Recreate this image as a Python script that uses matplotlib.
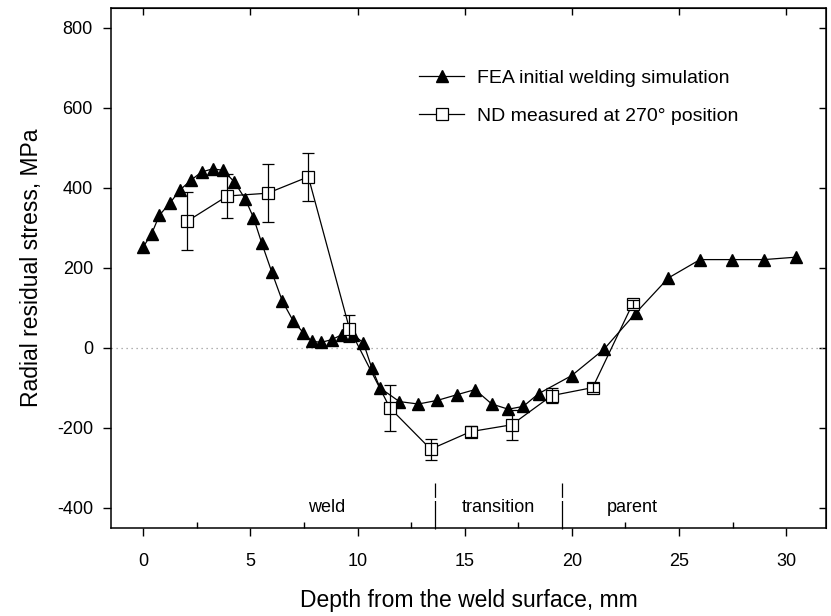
import matplotlib
matplotlib.use("Agg")
import matplotlib.pyplot as plt
from matplotlib.ticker import MultipleLocator

plt.rcParams['font.family'] = ['Liberation Sans', 'DejaVu Sans']
plt.rcParams['axes.unicode_minus'] = False

# FEA initial welding simulation
fea_x = [0, 0.39, 0.75, 1.25, 1.71, 2.23, 2.72, 3.24, 3.73, 4.25, 4.75, 5.14, 5.52,
         6.0, 6.49, 7.0, 7.47, 7.86, 8.3, 8.79, 9.26, 9.8, 10.27, 10.66, 11.05,
         11.95, 12.83, 13.72, 14.62, 15.48, 16.26, 17.03, 17.73, 18.45, 19.99,
         21.5, 22.99, 24.5, 25.98, 27.46, 28.96, 30.44]
fea_y = [253, 286, 332, 363, 395, 420, 440, 448, 444, 415, 373, 326, 263,
         189, 117, 67, 38, 17, 14, 21, 33, 33, 13, -50, -100,
         -134, -140, -131, -117, -104, -140, -153, -146, -114, -69,
         -3, 88, 175, 221, 221, 221, 227]

# ND measured at 270 deg position
nd_x = [2.05, 3.92, 5.8, 7.7, 9.62, 11.51, 13.41, 15.28, 17.19, 19.06, 20.97, 22.84]
nd_y = [317, 380, 387, 428, 48, -150, -253, -209, -192, -119, -99, 111]
nd_err = [72, 56, 72, 60, 34, 58, 26, 13, 38, 18, 12, 10]

# region annotations
region_names = ["weld", "transition", "parent"]
region_label_x = [8.56, 16.56, 22.8]
region_bounds = [13.6, 19.55]

fig = plt.figure(figsize=(8.31, 6.16), dpi=100)
ax = fig.add_axes([111/831, 1-528/616, (826-111)/831, (528-8)/616])

ax.axhline(0, color='0.6', lw=0.9, ls=(0, (1, 3)), zorder=1)

ax.plot(fea_x, fea_y, color='black', lw=0.9, marker='^', ms=8,
        mfc='black', mec='black', zorder=3,
        label='FEA initial welding simulation')
ax.plot(nd_x, nd_y, color='black', lw=0.9, marker='s', ms=8,
        mfc='white', mec='black', mew=0.9, zorder=4,
        label='ND measured at 270° position')
ax.errorbar(nd_x, nd_y, yerr=nd_err, fmt='none', ecolor='black',
            elinewidth=0.9, capsize=4.5, capthick=0.9, zorder=5)

for b in region_bounds:
    ax.plot([b, b], [-337, -452], color='black', lw=0.9,
            ls=(0, (11.5, 2.5, 25, 3)), zorder=2, clip_on=False)
for name, xx in zip(region_names, region_label_x):
    ax.text(xx, -400, name, ha='center', va='center', fontsize=13)

ax.set_xlim(-1.51, 31.86)
ax.set_ylim(-450, 850)
ax.xaxis.set_major_locator(MultipleLocator(5))
ax.xaxis.set_minor_locator(MultipleLocator(2.5))
ax.yaxis.set_major_locator(MultipleLocator(200))

for s in ax.spines.values():
    s.set_linewidth(1.1)

ax.tick_params(axis='both', which='major', direction='out', length=6,
               width=1.0, labelsize=13, top=False, right=False)
ax.tick_params(axis='x', which='major', pad=12)
ax.tick_params(axis='y', which='major', pad=7)
ax.tick_params(axis='x', which='minor', direction='in', length=4, width=1.0,
               top=False)
ax.tick_params(axis='y', which='minor', left=False, right=False)

# inward ticks on top and right
axt = ax.secondary_xaxis('top')
axt.xaxis.set_major_locator(MultipleLocator(5))
axt.tick_params(direction='in', length=5, width=1.0, labeltop=False)
axr = ax.secondary_yaxis('right')
axr.yaxis.set_major_locator(MultipleLocator(200))
axr.tick_params(direction='in', length=5, width=1.0, labelright=False)

ax.set_xlabel('Depth from the weld surface, mm', fontsize=16.5, labelpad=14)
ax.set_ylabel('Radial residual stress, MPa', fontsize=16.5, labelpad=10)

ax.legend(loc='upper left', bbox_to_anchor=(0.431, 0.882), frameon=False,
          fontsize=14, handlelength=2.3, handletextpad=0.7, labelspacing=1.05,
          borderpad=0, borderaxespad=0)

fig.savefig('out.png', dpi=100)
